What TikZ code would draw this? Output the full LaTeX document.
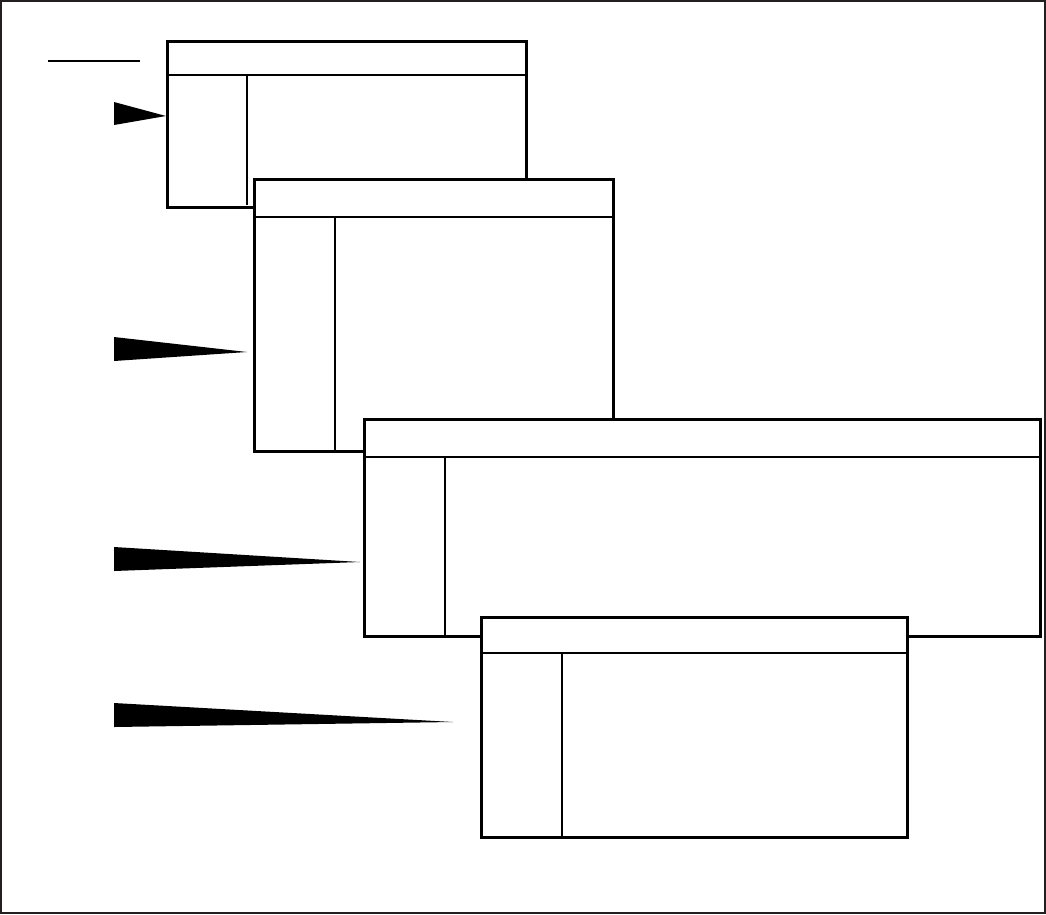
\documentclass[tikz,border=0pt]{standalone}
\usetikzlibrary{calc}
\definecolor{framegray}{HTML}{231F20}
\tikzset{
  winbox/.style={draw=black, fill=white, line width=3pt, rectangle, inner sep=0pt, outer sep=0pt, anchor=north west},
  hdrline/.style={draw=black, line width=1.4pt},
  divline/.style={draw=black, line width=2pt},
  wedge/.style={fill=black, draw=none},
}
\begin{document}
\begin{tikzpicture}[x=1pt, y=-1pt]
\useasboundingbox (0,0) rectangle (1046,914);
\fill[white] (0,0) rectangle (1046,914);
\draw[framegray, line width=2.2pt] (1.1,1.1) rectangle (1044.9,912.9);

% top-left rule
\draw[black, line width=2pt] (48,61) -- (140,61);

% box 1
\node[winbox, minimum width=359pt, minimum height=166pt] (b1) at (167.5,41) {};
\coordinate (h1l) at (167.5,75); \coordinate (h1r) at (526.5,75);
\draw[hdrline] (h1l) -- (h1r);
\coordinate (d1t) at (246.5,75); \coordinate (d1b) at (246.5,205);
\draw[divline] (d1t) -- (d1b);

% box 2
\node[winbox, minimum width=358.5pt, minimum height=271.5pt] (b2) at (254.5,179.5) {};
\coordinate (h2l) at (254.5,217); \coordinate (h2r) at (613,217);
\draw[hdrline] (h2l) -- (h2r);
\coordinate (d2t) at (335,217); \coordinate (d2b) at (335,450);
\draw[divline] (d2t) -- (d2b);

% box 3
\node[winbox, minimum width=676pt, minimum height=217pt] (b3) at (364.5,419) {};
\coordinate (h3l) at (364.5,457); \coordinate (h3r) at (1040.5,457);
\draw[hdrline] (h3l) -- (h3r);
\coordinate (d3t) at (445,457); \coordinate (d3b) at (445,635);
\draw[divline] (d3t) -- (d3b);

% box 4
\node[winbox, minimum width=426.5pt, minimum height=219.5pt] (b4) at (481,617.5) {};
\coordinate (h4l) at (481,653); \coordinate (h4r) at (907.5,653);
\draw[hdrline] (h4l) -- (h4r);
\coordinate (d4t) at (562,653); \coordinate (d4b) at (562,836);
\draw[divline] (d4t) -- (d4b);

% pointer wedges
\coordinate (t1) at (166,116);
\coordinate (t2) at (247,352);
\coordinate (t3) at (360,562);
\coordinate (t4) at (453,722);
\fill[wedge] (114,102) -- (114,125) -- (t1) -- cycle;
\fill[wedge] (114,337) -- (114,361) -- (t2) -- cycle;
\fill[wedge] (114,547) -- (114,571) -- (t3) -- cycle;
\fill[wedge] (114,703) -- (114,727) -- (t4) -- cycle;
\end{tikzpicture}
\end{document}
